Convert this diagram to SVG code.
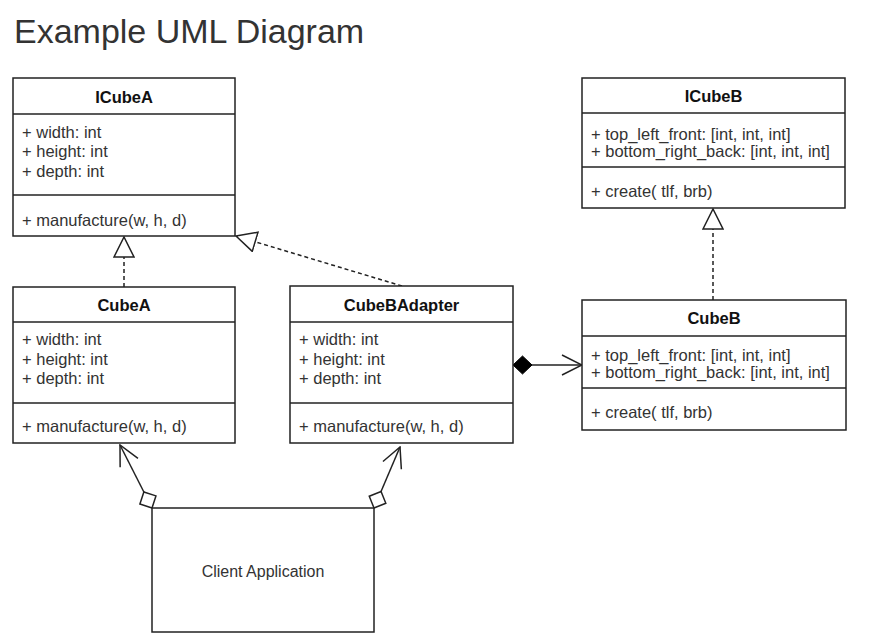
<svg xmlns="http://www.w3.org/2000/svg" width="872" height="639" viewBox="0 0 872 639">
<style>
  text { font-family: "Liberation Sans", Arial, sans-serif; fill: #333; font-size: 16.5px; }
  .title { font-size: 34px; }
  .cls { font-weight: bold; text-anchor: middle; fill: #111; }
  .box { fill: #fff; stroke: #222; stroke-width: 1.5; }
  .sep { stroke: #222; stroke-width: 1.5; fill: none; }
  .conn { stroke: #222; stroke-width: 1.5; fill: none; }
  .dash { stroke-dasharray: 4 3; }
  .client { text-anchor: middle; font-size: 16px; }
</style>
<defs>
  <marker id="tri" markerUnits="userSpaceOnUse" viewBox="0 0 22 22" markerWidth="22" markerHeight="22" refX="21" refY="11" orient="auto">
    <path d="M1,1 L21,11 L1,21 Z" fill="#fff" stroke="#222" stroke-width="1.5"/>
  </marker>
  <marker id="open" markerUnits="userSpaceOnUse" viewBox="0 0 22 22" markerWidth="22" markerHeight="22" refX="21" refY="11" orient="auto">
    <path d="M1,1 L21,11 L1,21" fill="none" stroke="#222" stroke-width="1.5"/>
  </marker>
  <marker id="dfill" markerUnits="userSpaceOnUse" viewBox="0 0 22 20" markerWidth="22" markerHeight="20" refX="1" refY="10" orient="auto">
    <path d="M1,10 L10.5,1 L20,10 L10.5,19 Z" fill="#000" stroke="#000" stroke-width="1"/>
  </marker>
  <marker id="dhollow" markerUnits="userSpaceOnUse" viewBox="0 0 22 20" markerWidth="22" markerHeight="20" refX="1" refY="10" orient="auto">
    <path d="M1,10 L10,1 L19,10 L10,19 Z" fill="#fff" stroke="#222" stroke-width="1.5"/>
  </marker>
</defs>
<rect width="872" height="639" fill="#fff"/>
<text class="title" x="14" y="43">Example UML Diagram</text>

<g id="connectors">
  <path class="conn dash" d="M124,287 L124,237" marker-end="url(#tri)"/>
  <path class="conn dash" d="M402,286 L236,236" marker-end="url(#tri)"/>
  <path class="conn dash" d="M713,300 L713,209" marker-end="url(#tri)"/>
  <path class="conn" d="M513,365 L582,365" marker-start="url(#dfill)" marker-end="url(#open)"/>
  <path class="conn" d="M152,508 L120,445" marker-start="url(#dhollow)" marker-end="url(#open)"/>
  <path class="conn" d="M374,508 L400,447" marker-start="url(#dhollow)" marker-end="url(#open)"/>
</g>

<g id="ICubeA">
  <rect class="box" x="13" y="78" width="222" height="158"/>
  <line class="sep" x1="13" y1="114" x2="235" y2="114"/>
  <line class="sep" x1="13" y1="195" x2="235" y2="195"/>
  <text class="cls" x="124" y="103">ICubeA</text>
  <text x="22" y="138">+ width: int</text>
  <text x="22" y="157">+ height: int</text>
  <text x="22" y="177">+ depth: int</text>
  <text x="22" y="226">+ manufacture(w, h, d)</text>
</g>

<g id="ICubeB">
  <rect class="box" x="582" y="78" width="263" height="130"/>
  <line class="sep" x1="582" y1="113" x2="845" y2="113"/>
  <line class="sep" x1="582" y1="167" x2="845" y2="167"/>
  <text class="cls" x="713.5" y="102">ICubeB</text>
  <text x="591" y="140">+ top_left_front: [int, int, int]</text>
  <text x="591" y="157">+ bottom_right_back: [int, int, int]</text>
  <text x="591" y="197">+ create( tlf, brb)</text>
</g>

<g id="CubeA">
  <rect class="box" x="13" y="287" width="222" height="156"/>
  <line class="sep" x1="13" y1="322" x2="235" y2="322"/>
  <line class="sep" x1="13" y1="403" x2="235" y2="403"/>
  <text class="cls" x="124" y="311">CubeA</text>
  <text x="22" y="345">+ width: int</text>
  <text x="22" y="365">+ height: int</text>
  <text x="22" y="384">+ depth: int</text>
  <text x="22" y="432">+ manufacture(w, h, d)</text>
</g>

<g id="CubeBAdapter">
  <rect class="box" x="290" y="286" width="223" height="157"/>
  <line class="sep" x1="290" y1="322" x2="513" y2="322"/>
  <line class="sep" x1="290" y1="403" x2="513" y2="403"/>
  <text class="cls" x="401.5" y="311">CubeBAdapter</text>
  <text x="299" y="345">+ width: int</text>
  <text x="299" y="365">+ height: int</text>
  <text x="299" y="384">+ depth: int</text>
  <text x="299" y="432">+ manufacture(w, h, d)</text>
</g>

<g id="CubeB">
  <rect class="box" x="582" y="300" width="264" height="130"/>
  <line class="sep" x1="582" y1="336" x2="846" y2="336"/>
  <line class="sep" x1="582" y1="388" x2="846" y2="388"/>
  <text class="cls" x="714" y="324">CubeB</text>
  <text x="591" y="361">+ top_left_front: [int, int, int]</text>
  <text x="591" y="378">+ bottom_right_back: [int, int, int]</text>
  <text x="591" y="418">+ create( tlf, brb)</text>
</g>

<g id="ClientApplication">
  <rect class="box" x="152" y="508" width="222" height="124"/>
  <text class="client" x="263" y="577">Client Application</text>
</g>
</svg>
